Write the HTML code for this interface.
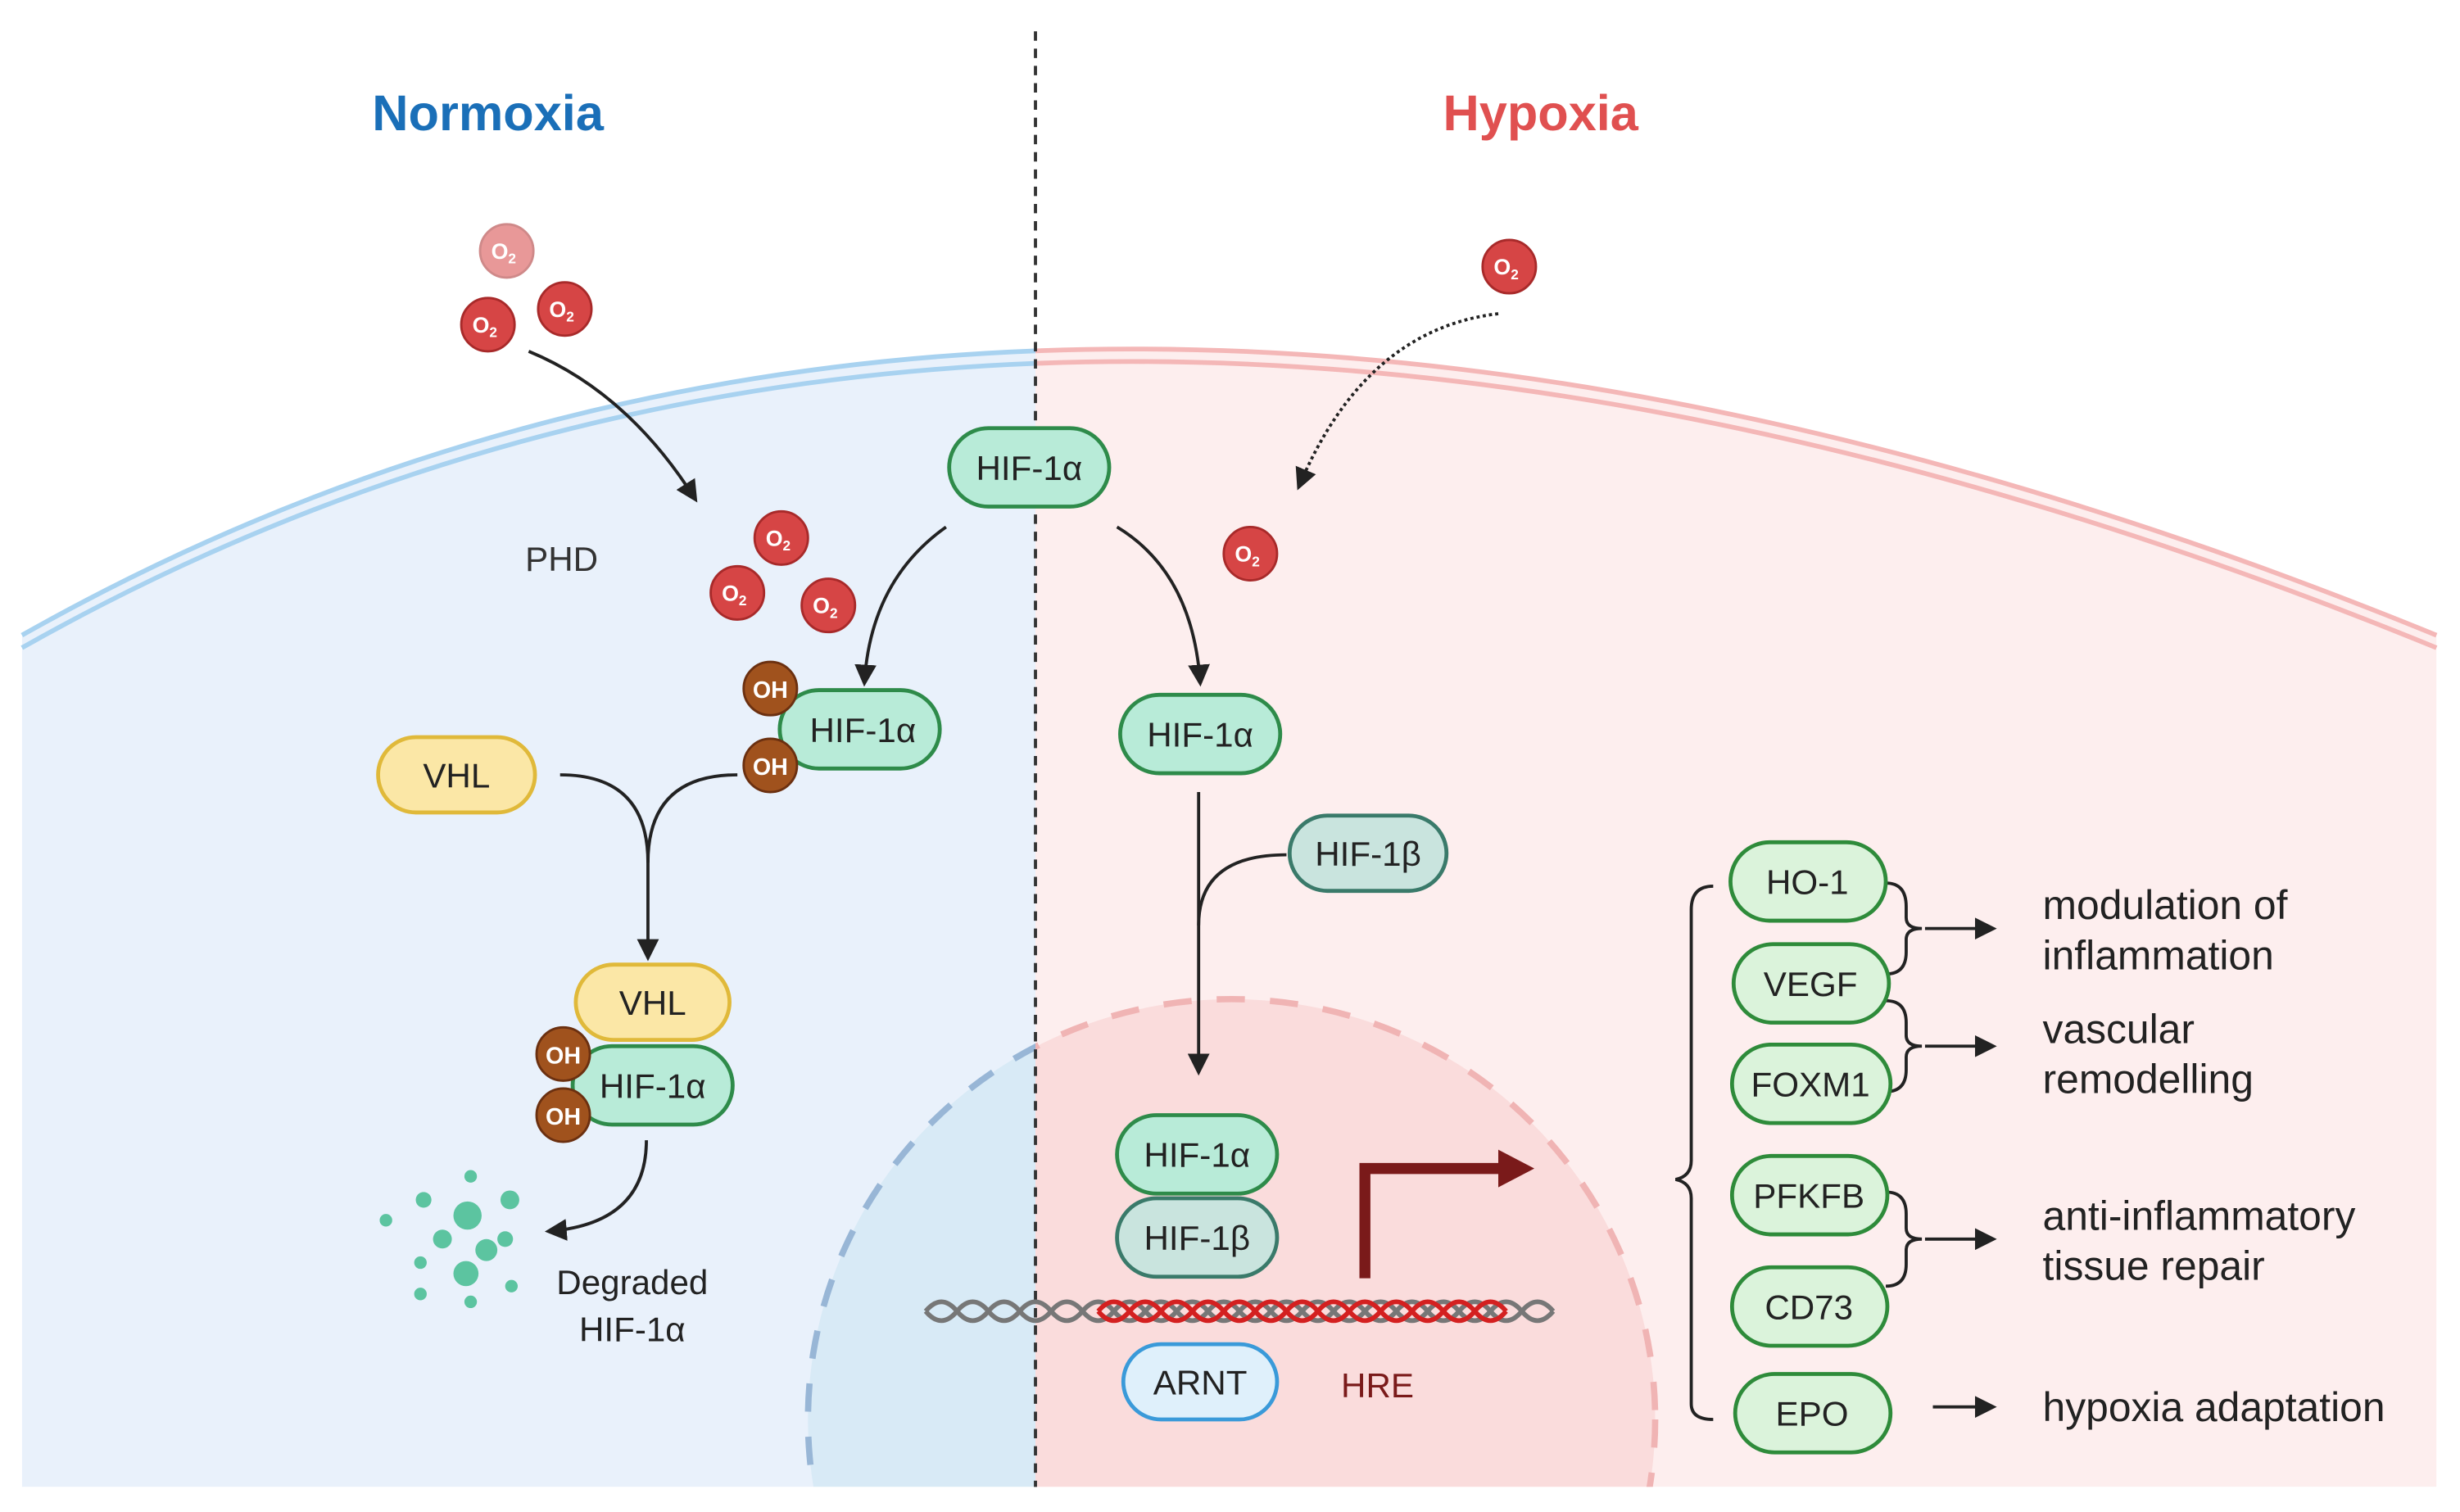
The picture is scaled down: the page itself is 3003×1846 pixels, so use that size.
<!DOCTYPE html>
<html><head><meta charset="utf-8"><style>
html,body{margin:0;padding:0;background:#fff;width:3003px;height:1846px;overflow:hidden}
svg{display:block}
text{font-family:"Liberation Sans",sans-serif}
</style></head><body>
<svg width="3003" height="1846" viewBox="0 0 1568 964" preserveAspectRatio="none" xmlns="http://www.w3.org/2000/svg">
<defs>
<clipPath id="L"><rect x="0" y="0" width="660" height="964"/></clipPath>
<clipPath id="R"><rect x="660" y="0" width="908" height="964"/></clipPath>
<clipPath id="cell"><path d="M14,405 Q660,40 1553,405 L1553,948 L14,948 Z"/></clipPath>
<marker id="ah" viewBox="0 0 10 10" refX="8" refY="5" markerWidth="7" markerHeight="7" orient="auto"><path d="M0,0 L10,5 L0,10 Z" fill="#222"/></marker>
<g id="o2"><circle r="17" fill="#d64545" stroke="#a82a2a" stroke-width="1.5"/><text x="-2" y="5" font-size="14" fill="#fff" font-weight="bold" text-anchor="middle">O<tspan font-size="9" dy="3">2</tspan></text></g>
<g id="oh"><circle r="17" fill="#a0521d" stroke="#6b3010" stroke-width="1.5"/><text y="6" font-size="15" fill="#fff" font-weight="bold" text-anchor="middle">OH</text></g>
</defs>
<rect width="1568" height="964" fill="#fff"/>
<g clip-path="url(#cell)">
<rect x="0" y="0" width="660" height="964" fill="#e9f1fb"/>
<rect x="660" y="0" width="908" height="964" fill="#fdeeee"/>
<g clip-path="url(#L)"><ellipse cx="785" cy="905" rx="270" ry="268" fill="#d8eaf6"/></g>
<g clip-path="url(#R)"><ellipse cx="785" cy="905" rx="270" ry="268" fill="#fadcdc"/></g>
</g>
<rect x="0" y="948" width="1568" height="16" fill="#fff"/>
<g clip-path="url(#L)" fill="none" stroke="#a8d2f0" stroke-width="3">
<path d="M14,405 Q660,40 1553,405"/><path d="M14,413 Q660,48 1553,413"/></g>
<g clip-path="url(#R)" fill="none" stroke="#f4b7b7" stroke-width="3">
<path d="M14,405 Q660,40 1553,405"/><path d="M14,413 Q660,48 1553,413"/></g>
<g clip-path="url(#cell)">
<g clip-path="url(#L)"><ellipse cx="785" cy="905" rx="270" ry="268" fill="none" stroke="#98b6d6" stroke-width="4" stroke-dasharray="18,16"/></g>
<g clip-path="url(#R)"><ellipse cx="785" cy="905" rx="270" ry="268" fill="none" stroke="#f0b4b4" stroke-width="4" stroke-dasharray="18,16"/></g>
</g>
<line x1="660" y1="20" x2="660" y2="948" stroke="#333" stroke-width="2" stroke-dasharray="6,5"/>
<text x="311" y="83" font-size="32" font-weight="bold" fill="#1a6fb8" text-anchor="middle">Normoxia</text>
<text x="982" y="83" font-size="32" font-weight="bold" fill="#e05050" text-anchor="middle">Hypoxia</text>
<g opacity="0.55"><use href="#o2" x="323" y="160"/></g>
<use href="#o2" x="311" y="207"/><use href="#o2" x="360" y="197"/>
<use href="#o2" x="498" y="343"/><use href="#o2" x="470" y="378"/><use href="#o2" x="528" y="386"/>
<use href="#o2" x="962" y="170"/><use href="#o2" x="797" y="353"/>
<text x="358" y="364" font-size="22" fill="#333" text-anchor="middle">PHD</text>
<g fill="none" stroke="#222" stroke-width="2" marker-end="url(#ah)">
<path d="M337,224 Q400,250 443,318"/>
<path d="M955,200 Q870,210 828,310" stroke-dasharray="2,2"/>
<path d="M603,336 Q555,370 551,435"/>
<path d="M712,336 Q760,365 765,435"/>
<path d="M413,545 L413,610"/>
<path d="M412,727 Q412,780 350,785"/>
<path d="M764,505 L764,683"/>
<path d="M1232,897 L1270,897"/>
<path d="M1227,592 L1270,592"/><path d="M1227,667 L1270,667"/><path d="M1227,790 L1270,790"/>
</g>
<g fill="none" stroke="#222" stroke-width="2">
<path d="M357,494 Q413,494 413,550 Q413,494 470,494"/>
<path d="M764,590 Q764,545 820,545"/>
<path d="M1092,565 Q1078,565 1078,580 L1078,740 Q1078,750 1068,752 Q1078,754 1078,764 L1078,895 Q1078,905 1092,905"/>
<path d="M1202,563 Q1215,563 1215,578 L1215,585 Q1215,592 1225,592 Q1215,592 1215,599 L1215,607 Q1215,621 1202,621"/>
<path d="M1202,638 Q1215,638 1215,652 L1215,660 Q1215,667 1225,667 Q1215,667 1215,674 L1215,682 Q1215,696 1202,696"/>
<path d="M1202,760 Q1215,760 1215,774 L1215,783 Q1215,790 1225,790 Q1215,790 1215,797 L1215,806 Q1215,820 1202,820"/>
</g>
<g font-size="22" text-anchor="middle" fill="#222">
<rect x="605" y="273" width="102" height="50" rx="25" fill="#b8ebd8" stroke="#2e8b4a" stroke-width="2.5"/><text x="656" y="306">HIF-1α</text>
<rect x="497" y="440" width="102" height="50" rx="25" fill="#b8ebd8" stroke="#2e8b4a" stroke-width="2.5"/><text x="550" y="473">HIF-1α</text>
<rect x="714" y="443" width="102" height="50" rx="25" fill="#b8ebd8" stroke="#2e8b4a" stroke-width="2.5"/><text x="765" y="476">HIF-1α</text>
<rect x="241" y="470" width="100" height="48" rx="24" fill="#fbe7a6" stroke="#e0b93a" stroke-width="2.5"/><text x="291" y="502">VHL</text>
<rect x="367" y="615" width="98" height="48" rx="24" fill="#fbe7a6" stroke="#e0b93a" stroke-width="2.5"/><text x="416" y="647">VHL</text>
<rect x="365" y="667" width="102" height="50" rx="25" fill="#b8ebd8" stroke="#2e8b4a" stroke-width="2.5"/><text x="416" y="700">HIF-1α</text>
<rect x="822" y="520" width="100" height="48" rx="24" fill="#c9e4de" stroke="#3a7a6a" stroke-width="2.5"/><text x="872" y="552">HIF-1β</text>
<rect x="712" y="711" width="102" height="50" rx="25" fill="#b8ebd8" stroke="#2e8b4a" stroke-width="2.5"/><text x="763" y="744">HIF-1α</text>
<rect x="712" y="764" width="102" height="50" rx="25" fill="#c9e4de" stroke="#3a7a6a" stroke-width="2.5"/><text x="763" y="797">HIF-1β</text>
<rect x="716" y="857" width="98" height="48" rx="24" fill="#dff0fb" stroke="#3a9ad9" stroke-width="2.5"/><text x="765" y="889">ARNT</text>
</g>
<use href="#oh" x="491" y="439"/><use href="#oh" x="491" y="488"/>
<use href="#oh" x="359" y="672"/><use href="#oh" x="359" y="711"/>
<g fill="#5cc4a0">
<circle cx="298" cy="775" r="9"/><circle cx="310" cy="797" r="7"/><circle cx="282" cy="790" r="6"/><circle cx="297" cy="812" r="8"/>
<circle cx="325" cy="765" r="6"/><circle cx="270" cy="765" r="5"/><circle cx="322" cy="790" r="5"/><circle cx="268" cy="805" r="4"/>
<circle cx="300" cy="750" r="4"/><circle cx="246" cy="778" r="4"/><circle cx="268" cy="825" r="4"/><circle cx="300" cy="830" r="4"/><circle cx="326" cy="820" r="4"/>
</g>
<text x="403" y="825" font-size="22" fill="#222" text-anchor="middle">Degraded</text>
<text x="403" y="855" font-size="22" fill="#222" text-anchor="middle">HIF-1α</text>
<g fill="none" stroke-width="3">
<path d="M590,836 q10,-12 20,0 t20,0 t20,0 t20,0 t20,0 t20,0 t20,0 t20,0 t20,0 t20,0 t20,0 t20,0 t20,0 t20,0 t20,0 t20,0 t20,0 t20,0 t20,0 t20,0" stroke="#777"/>
<path d="M590,836 q10,12 20,0 t20,0 t20,0 t20,0 t20,0 t20,0 t20,0 t20,0 t20,0 t20,0 t20,0 t20,0 t20,0 t20,0 t20,0 t20,0 t20,0 t20,0 t20,0 t20,0" stroke="#777"/>
<path d="M700,836 q10,-12 20,0 t20,0 t20,0 t20,0 t20,0 t20,0 t20,0 t20,0 t20,0 t20,0 t20,0 t20,0 t20,0" stroke="#d42020"/>
<path d="M700,836 q10,12 20,0 t20,0 t20,0 t20,0 t20,0 t20,0 t20,0 t20,0 t20,0 t20,0 t20,0 t20,0 t20,0" stroke="#d42020"/>
</g>
<path d="M870,815 L870,745 L958,745" fill="none" stroke="#7a1a1a" stroke-width="7"/>
<path d="M955,733 L978,745 L955,757 Z" fill="#7a1a1a"/>
<text x="878" y="891" font-size="22" fill="#7a1a1a" text-anchor="middle">HRE</text>
<g font-size="22" text-anchor="middle" fill="#222">
<rect x="1103" y="537" width="99" height="50" rx="25" fill="#dbf3db" stroke="#2e8b3a" stroke-width="2.5"/><text x="1152" y="570">HO-1</text>
<rect x="1105" y="602" width="99" height="50" rx="25" fill="#dbf3db" stroke="#2e8b3a" stroke-width="2.5"/><text x="1154" y="635">VEGF</text>
<rect x="1104" y="666" width="101" height="50" rx="25" fill="#dbf3db" stroke="#2e8b3a" stroke-width="2.5"/><text x="1154" y="699">FOXM1</text>
<rect x="1104" y="737" width="99" height="50" rx="25" fill="#dbf3db" stroke="#2e8b3a" stroke-width="2.5"/><text x="1153" y="770">PFKFB</text>
<rect x="1104" y="808" width="99" height="50" rx="25" fill="#dbf3db" stroke="#2e8b3a" stroke-width="2.5"/><text x="1153" y="841">CD73</text>
<rect x="1106" y="876" width="99" height="50" rx="25" fill="#dbf3db" stroke="#2e8b3a" stroke-width="2.5"/><text x="1155" y="909">EPO</text>
</g>
<g font-size="26" fill="#222">
<text x="1302" y="586">modulation of</text><text x="1302" y="618">inflammation</text>
<text x="1302" y="665">vascular</text><text x="1302" y="697">remodelling</text>
<text x="1302" y="784">anti-inflammatory</text><text x="1302" y="816">tissue repair</text>
<text x="1302" y="906">hypoxia adaptation</text>
</g>
</svg>
</body></html>
